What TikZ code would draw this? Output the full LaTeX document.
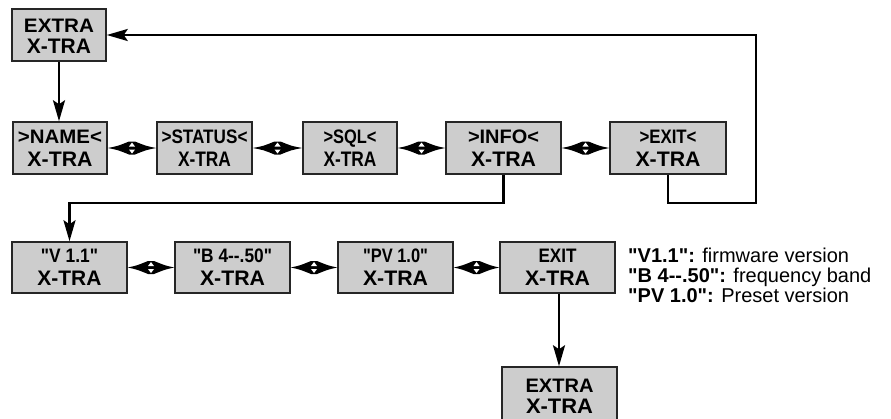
\documentclass[tikz,border=0pt]{standalone}
\usepackage{fontspec}
\setmainfont{Liberation Sans}[Ligatures=TeXOff]
\usepackage{graphicx}
\usetikzlibrary{arrows.meta,calc}
\definecolor{boxgray}{RGB}{205,205,205}
\newcommand\dq{\char"22\relax}
\newcommand\fw[2]{\resizebox{#1pt}{\height}{#2}}
\newcommand\dbl[2]{%
  \coordinate (m#1#2) at ($(#1.east)!0.5!(#2.west)$);
  \fill (#1.east) .. controls ([shift={(-14,-2)}]m#1#2) .. ([shift={(-3,-6.5)}]m#1#2) -- ([shift={(3,-6.5)}]m#1#2)
        .. controls ([shift={(14,-2)}]m#1#2) .. (#2.west)
        .. controls ([shift={(14,2)}]m#1#2) .. ([shift={(3,6.5)}]m#1#2) -- ([shift={(-3,6.5)}]m#1#2)
        .. controls ([shift={(-14,2)}]m#1#2) .. cycle;
  \fill[white] ([shift={(0,-5.5)}]m#1#2) -- ([shift={(3,-1.5)}]m#1#2) -- ([shift={(-3,-1.5)}]m#1#2) -- cycle;
  \fill[white] ([shift={(0,5.5)}]m#1#2) -- ([shift={(3,1.5)}]m#1#2) -- ([shift={(-3,1.5)}]m#1#2) -- cycle;
}
\begin{document}
\begin{tikzpicture}[x=1pt,y=-1pt,
  box/.style={draw=black!85, line width=1.5pt, fill=boxgray, inner sep=0pt, minimum height=52pt},
  ta/.style={anchor=base, inner sep=0pt, font=\fontsize{19.5}{21}\selectfont\bfseries},
  tb/.style={anchor=base, inner sep=0pt, font=\fontsize{21}{23}\selectfont\bfseries},
  conn/.style={line width=2.4pt, line join=miter},
  arr/.style={conn, -{Stealth[length=21pt,width=12pt,inset=4pt]}},
  legend/.style={anchor=base west, inner sep=0pt, font=\fontsize{20}{22}\selectfont}
]
\useasboundingbox (0,0) rectangle (891,418);

% top
\node[box, minimum width=94pt] (extra) at (59,35) {};
\node[ta] (extraA) at (59,32) {\fw{70}{EXTRA}};
\node[tb] (extraB) at (59,53) {\fw{64}{X-TRA}};

% row 1
\node[box, minimum width=94pt] (name) at (60,148) {};
\node[ta] (nameA) at (60,143) {\fw{84}{>NAME<}};
\node[tb] (nameB) at (60,166) {\fw{65}{X-TRA}};

\node[box, minimum width=95pt] (status) at (204.5,148) {};
\node[ta] (statusA) at (204.5,143) {\fw{86}{>STATUS<}};
\node[tb] (statusB) at (204.5,166) {\fw{53}{X-TRA}};

\node[box, minimum width=94pt] (sql) at (350,148) {};
\node[ta] (sqlA) at (350,143) {\fw{53}{>SQL<}};
\node[tb] (sqlB) at (350,166) {\fw{53}{X-TRA}};

\node[box, minimum width=115pt] (info) at (503.5,148) {};
\node[ta] (infoA) at (503.5,143) {\fw{71}{>INFO<}};
\node[tb] (infoB) at (503.5,166) {\fw{65}{X-TRA}};

\node[box, minimum width=116pt] (exitA) at (668,148) {};
\node[ta] (exitAa) at (668,143) {\fw{57}{>EXIT<}};
\node[tb] (exitAb) at (668,166) {\fw{65}{X-TRA}};

% row 2
\node[box, minimum width=115pt, minimum height=51pt] (vv) at (69.5,267.5) {};
\node[ta] (vvA) at (69.5,262) {\fw{57}{\dq V 1.1\dq}};
\node[tb] (vvB) at (69.5,285) {\fw{64}{X-TRA}};

\node[box, minimum width=115pt, minimum height=51pt] (bb) at (232.5,267.5) {};
\node[ta] (bbA) at (232.5,262) {\fw{79}{\dq B 4--.50\dq}};
\node[tb] (bbB) at (232.5,285) {\fw{65}{X-TRA}};

\node[box, minimum width=115pt, minimum height=51pt] (pv) at (395.5,267.5) {};
\node[ta] (pvA) at (395.5,262) {\fw{65}{\dq PV 1.0\dq}};
\node[tb] (pvB) at (395.5,285) {\fw{65}{X-TRA}};

\node[box, minimum width=115pt, minimum height=51pt] (exitB) at (557.5,267.5) {};
\node[ta] (exitBa) at (557.5,262) {\fw{38}{EXIT}};
\node[tb] (exitBb) at (557.5,285) {\fw{65}{X-TRA}};

% bottom
\node[box, minimum width=115pt, minimum height=53pt] (extra2) at (559.5,393.5) {};
\node[ta] (extra2A) at (559.5,392) {\fw{68}{EXTRA}};
\node[tb] (extra2B) at (559.5,413) {\fw{67}{X-TRA}};

% connectors
\draw[arr] (extra.south) -- (extra.south |- name.north);
\coordinate (c1) at (756,203);
\draw[arr] (exitA.south) |- (c1) |- (extra.east);
\draw[arr] (info.south) -- ++(0,28) -| (vv.north);
\draw[arr] (exitB.south -| 559,0) -- (559,0 |- extra2.north);

\dbl{name}{status}
\dbl{status}{sql}
\dbl{sql}{info}
\dbl{info}{exitA}
\dbl{vv}{bb}
\dbl{bb}{pv}
\dbl{pv}{exitB}

% legend
\node[legend] (leg1) at (628,262) {\textbf{\dq V1.1\dq:} firmware version};
\node[legend] (leg2) at (628,282) {\textbf{\dq B 4--.50\dq:} frequency band};
\node[legend] (leg3) at (628,302) {\textbf{\dq PV 1.0\dq:} Preset version};
\end{tikzpicture}
\end{document}
